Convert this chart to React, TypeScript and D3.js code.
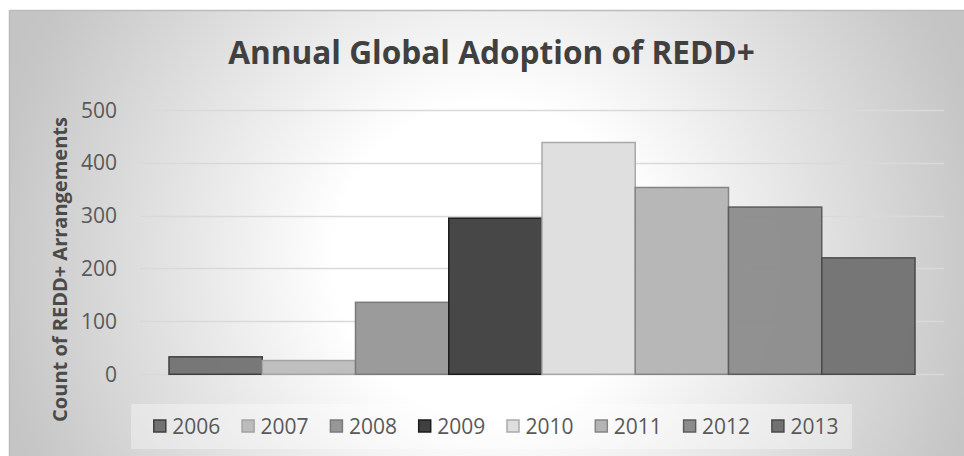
import React from "react";
import * as d3 from "d3";

// Chart data
const years = ["2006", "2007", "2008", "2009", "2010", "2011", "2012", "2013"];
const counts = [33, 26, 136, 295, 438, 353, 316, 220];
const yTicks = [0, 100, 200, 300, 400, 500];

// Series styling (one grey per year)
const fills = ["#727272", "#bcbcbc", "#979797", "#404040", "#dedede", "#b4b4b4", "#8c8c8c", "#717171"];
const strokes = ["#3f3f3f", "#a3a3a3", "#7a7a7a", "#1c1c1c", "#a9a9a9", "#858585", "#5c5c5c", "#4a4a4a"];

const W = 964;
const H = 456;
const FONT = "'Open Sans', sans-serif";

export default function App() {
  const y = d3.scaleLinear().domain([0, 500]).range([374.3, 109.7]);
  const x = d3.scaleBand<string>().domain(years).range([169, 915]).padding(0);
  const legendX = d3.scaleBand<string>().domain(years).range([153.3, 153.3 + 88.3 * years.length]).padding(0);
  const gridX0 = 140;
  const gridX1 = 944;

  return (
    <svg
      width={W}
      height={H}
      style={{ position: "fixed", left: 0, top: 0, display: "block" }}
      fontFamily={FONT}
    >
      <defs>
        <radialGradient id="bgGrad" gradientUnits="userSpaceOnUse" cx={490} cy={260} r={520}>
          <stop offset="0" stopColor="#ffffff" />
          <stop offset="0.3" stopColor="#ffffff" />
          <stop offset="0.95" stopColor="#c6c6c6" />
          <stop offset="1" stopColor="#c4c4c4" />
        </radialGradient>
      </defs>

      <rect x={0} y={0} width={W} height={H} fill="#ffffff" />
      <rect x={9.5} y={10.5} width={980} height={470} fill="url(#bgGrad)" stroke="#bcbcbc" strokeWidth={1.5} />

      {/* gridlines */}
      {yTicks.map((t) => (
        <line
          key={"g" + t}
          x1={gridX0}
          x2={gridX1}
          y1={Math.round(y(t)) + 0.5}
          y2={Math.round(y(t)) + 0.5}
          stroke="#d9d9d9"
          strokeWidth={1.5}
        />
      ))}

      {/* bars */}
      {years.map((yr, i) => (
        <rect
          key={"b" + yr}
          x={x(yr)!}
          y={y(counts[i])}
          width={x.bandwidth()}
          height={y(0) - y(counts[i])}
          fill={fills[i]}
          fillOpacity={0.96}
          stroke={strokes[i]}
          strokeWidth={1.5}
        />
      ))}

      {/* y tick labels */}
      {yTicks.map((t) => (
        <text
          key={"t" + t}
          x={117}
          y={y(t) + 7.8}
          textAnchor="end"
          fontSize={21}
          fill="#595959"
        >
          {t}
        </text>
      ))}

      {/* y axis title */}
      <text
        transform={`translate(66.5, 269.5) rotate(-90)`}
        textAnchor="middle"
        fontSize={20}
        fontWeight="bold"
        fill="#4a4a4a"
      >
        Count of REDD+ Arrangements
      </text>

      {/* chart title */}
      <text x={491.5} y={64} textAnchor="middle" fontSize={31.6} fontWeight="bold" fill="#404040">
        Annual Global Adoption of REDD+
      </text>

      {/* legend */}
      <rect x={131} y={404} width={721} height={45} fill="#ffffff" fillOpacity={0.35} />
      {years.map((yr, i) => {
        const lx = legendX(yr)!;
        return (
          <g key={"l" + yr}>
            <rect
              x={lx + 0.5}
              y={420}
              width={12}
              height={12}
              fill={fills[i]}
              stroke={strokes[i]}
              strokeWidth={1.5}
            />
            <text x={lx + 19} y={433.5} fontSize={21} fill="#595959">
              {yr}
            </text>
          </g>
        );
      })}
    </svg>
  );
}
